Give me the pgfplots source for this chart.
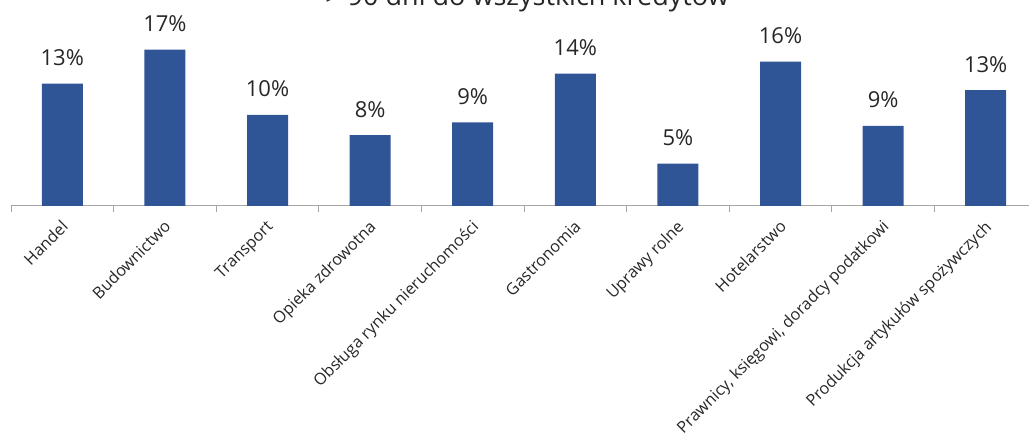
\documentclass[border=0pt]{standalone}
\usepackage{fontspec}
\setmainfont{Open Sans}
\usepackage{pgfplots}
\pgfplotsset{compat=1.18}
\definecolor{barblue}{RGB}{47,85,151}
\definecolor{axgray}{RGB}{166,166,166}
\definecolor{txt}{RGB}{38,38,38}
\begin{document}
\begin{tikzpicture}
\useasboundingbox (0pt,0pt) rectangle (1029pt,441pt);
\clip (0pt,0pt) rectangle (1029pt,441pt);
\node[anchor=base, font=\fontsize{27}{32}\selectfont, text=txt, inner sep=0pt] at (527pt,435pt) {> 90 dni do wszystkich kredytów};
\begin{axis}[
  at={(11pt,235pt)}, anchor=south west,
  width=1026pt, height=184pt, scale only axis,
  xmin=-0.5, xmax=9.5, ymin=0, ymax=20,
  axis y line=none, axis x line*=bottom,
  x axis line style={axgray, line width=1pt, -},
  xtick={0,...,9},
  xticklabels={Handel,Budownictwo,Transport,Opieka zdrowotna,Obsługa rynku nieruchomości,Gastronomia,Uprawy rolne,Hotelarstwo,{Prawnicy, księgowi, doradcy podatkowi},Produkcja artykułów spożywczych},
  major tick length=0pt,
  xticklabel style={xshift=-2pt, yshift=-13pt, rotate=45, anchor=north east, font=\fontsize{16.2}{19}\selectfont, text=txt, inner sep=0pt},
  extra x ticks={-0.5,0.5,...,9.5},
  extra x tick labels={},
  extra x tick style={major tick length=6pt, tick align=outside, tick style={axgray, line width=1pt}},
  ybar, bar width=41pt,
  /pgf/number format/assume math mode=true,
  nodes near coords={\pgfmathprintnumber[fixed,precision=0]{\pgfplotspointmeta}\%},
  nodes near coords style={anchor=base, font=\fontsize{22}{26}\selectfont, text=txt, inner sep=0pt, yshift=18pt},
  clip=false,
]
\addplot[fill=barblue, draw=none] coordinates {
(0,13.3) (1,17.0) (2,9.9) (3,7.7) (4,9.1) (5,14.4) (6,4.6) (7,15.7) (8,8.7) (9,12.6)
};
\end{axis}
\end{tikzpicture}
\end{document}
